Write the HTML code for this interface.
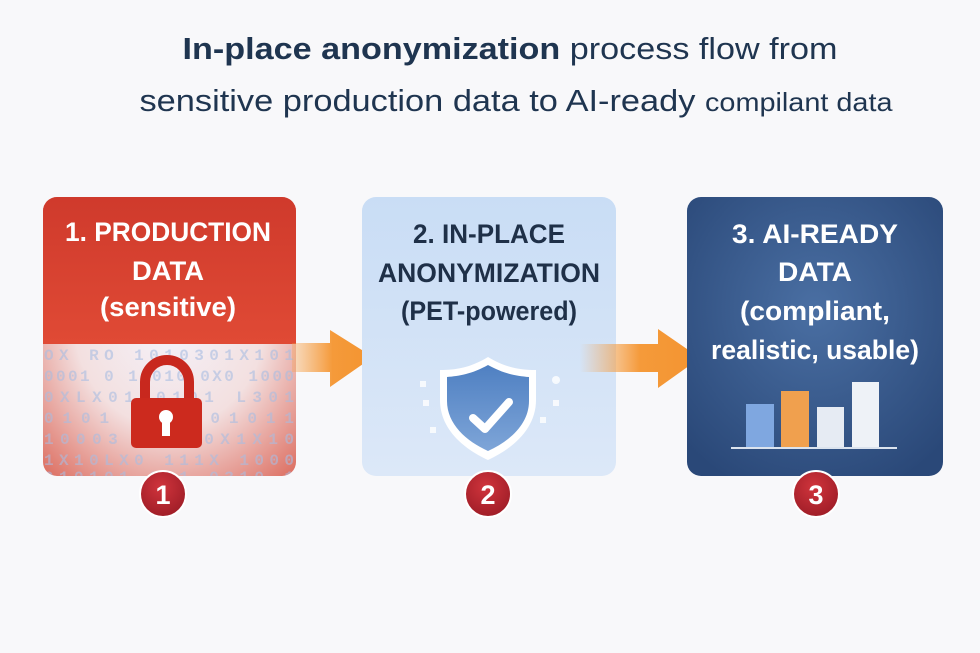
<!DOCTYPE html>
<html><head><meta charset="utf-8"><style>
html,body{margin:0;padding:0;background:#f8f8fa;}
svg{display:block;}
text{font-family:"Liberation Sans",sans-serif;}
text.mono{font-family:"Liberation Mono",monospace;}
</style></head><body>
<svg width="980" height="653" viewBox="0 0 980 653" xmlns="http://www.w3.org/2000/svg">
<defs>
<linearGradient id="red" x1="0" y1="0" x2="0" y2="1">
<stop offset="0" stop-color="#cf3a2c"/><stop offset="1" stop-color="#e04a35"/>
</linearGradient>
<radialGradient id="redlow" cx="0.5" cy="0.45" r="0.75">
<stop offset="0" stop-color="#f4f2fa"/><stop offset="0.5" stop-color="#f3e0e0"/><stop offset="1" stop-color="#dc6a5c"/>
</radialGradient>
<linearGradient id="blue2" x1="0" y1="0" x2="0" y2="1">
<stop offset="0" stop-color="#c9ddf5"/><stop offset="1" stop-color="#dce8f8"/>
</linearGradient>
<radialGradient id="navy" cx="0.5" cy="0.4" r="0.7">
<stop offset="0" stop-color="#4a6fa3"/><stop offset="1" stop-color="#2a4878"/>
</radialGradient>
<linearGradient id="arr1" x1="0" y1="0" x2="1" y2="0">
<stop offset="0" stop-color="#f6a048" stop-opacity="0.3"/><stop offset="0.5" stop-color="#f59a3a"/><stop offset="1" stop-color="#f39430"/>
</linearGradient>
<linearGradient id="arr2" x1="0" y1="0" x2="1" y2="0">
<stop offset="0" stop-color="#f6a048" stop-opacity="0"/><stop offset="0.5" stop-color="#f59a3a"/><stop offset="1" stop-color="#f39430"/>
</linearGradient>
<radialGradient id="badge" cx="0.45" cy="0.35" r="0.7">
<stop offset="0" stop-color="#d0343c"/><stop offset="1" stop-color="#9c1c26"/>
</radialGradient>
<linearGradient id="shield" x1="0" y1="0" x2="0" y2="1">
<stop offset="0" stop-color="#4f80c2"/><stop offset="1" stop-color="#7ea5d8"/>
</linearGradient>
<clipPath id="c1"><rect x="43" y="197" width="253" height="279" rx="14"/></clipPath>
</defs>

<!-- Title -->
<text x="510" y="59" text-anchor="middle" font-size="31" fill="#1f3550" textLength="655" lengthAdjust="spacingAndGlyphs"><tspan font-weight="bold">In-place anonymization</tspan> process flow from</text>
<text x="516" y="111" text-anchor="middle" font-size="31" fill="#1f3550" textLength="753" lengthAdjust="spacingAndGlyphs">sensitive production data to AI-ready <tspan font-size="26">compilant data</tspan></text>

<!-- Box 1 -->
<g clip-path="url(#c1)">
<rect x="43" y="197" width="253" height="279" fill="url(#redlow)"/>
<rect x="43" y="197" width="253" height="147" fill="url(#red)"/>
<g font-size="16" fill="#a9bde2" opacity="0.6" font-weight="bold">
<text class="mono" x="44" y="360" textLength="250">OX RO 1010301X101</text>
<text class="mono" x="44" y="381" textLength="250">0001 0 10010 0X0 1000</text>
<text class="mono" x="44" y="402" textLength="250">0XLX0110101 L301</text>
<text class="mono" x="44" y="423" textLength="250">0101 L 0001011</text>
<text class="mono" x="44" y="444" textLength="250">10003 1 0X0X1X10</text>
<text class="mono" x="44" y="465" textLength="250">1X10LX0 111X 1000</text>
<text class="mono" x="44" y="482" textLength="250">010101 011 0310 1</text>
</g>
</g>
<!-- lock -->
<path d="M145 400 v-18 a22 22 0 0 1 44 0 v18" fill="none" stroke="#c8281e" stroke-width="10"/>
<rect x="131" y="398" width="71" height="50" rx="5" fill="#cc2a1e"/>
<circle cx="166" cy="417" r="7" fill="#fff"/>
<rect x="162" y="419" width="8" height="17" fill="#fff"/>
<g fill="#fff" font-weight="bold" text-anchor="middle" font-size="27">
<text x="168" y="241" textLength="206" lengthAdjust="spacingAndGlyphs">1. PRODUCTION</text>
<text x="168" y="280" textLength="72" lengthAdjust="spacingAndGlyphs">DATA</text>
<text x="168" y="316" textLength="136" lengthAdjust="spacingAndGlyphs">(sensitive)</text>
</g>

<!-- Arrow 1 -->
<path d="M292 343 H330 V330 L373 357 L330 387 V372 H292 Z" fill="url(#arr1)"/>

<!-- Box 2 -->
<rect x="362" y="197" width="254" height="279" rx="14" fill="url(#blue2)"/>
<g fill="#1f3048" font-weight="bold" text-anchor="middle" font-size="27">
<text x="489" y="243" textLength="152" lengthAdjust="spacingAndGlyphs">2. IN-PLACE</text>
<text x="489" y="282" textLength="222" lengthAdjust="spacingAndGlyphs">ANONYMIZATION</text>
<text x="489" y="320" textLength="176" lengthAdjust="spacingAndGlyphs">(PET-powered)</text>
</g>
<g fill="#fff" opacity="0.8">
<rect x="420" y="381" width="6" height="6"/><rect x="423" y="400" width="6" height="6"/><rect x="430" y="427" width="6" height="6"/>
<circle cx="556" cy="380" r="4"/><rect x="553" y="400" width="6" height="6"/><rect x="540" y="417" width="6" height="6"/>
</g>
<path d="M488 357 C470 368 455 370 440 370 L440 400 C440 428 462 448 488 460 C514 448 536 428 536 400 L536 370 C521 370 506 368 488 357 Z" fill="#fff"/>
<path d="M488 365 C472 374 459 376 447 377 L447 401 C447 424 466 441 488 451 C510 441 529 424 529 401 L529 377 C517 376 504 374 488 365 Z" fill="url(#shield)"/>
<path d="M473 418 L485 429 L509 402" fill="none" stroke="#fff" stroke-width="8" stroke-linecap="round" stroke-linejoin="round"/>

<!-- Arrow 2 -->
<path d="M580 344 H658 V329 L700 358 L658 388 V372 H580 Z" fill="url(#arr2)"/>

<!-- Box 3 -->
<rect x="687" y="197" width="256" height="279" rx="14" fill="url(#navy)"/>
<g fill="#fff" font-weight="bold" text-anchor="middle" font-size="27">
<text x="815" y="243" textLength="166" lengthAdjust="spacingAndGlyphs">3. AI-READY</text>
<text x="815" y="281" textLength="74" lengthAdjust="spacingAndGlyphs">DATA</text>
<text x="815" y="320" textLength="150" lengthAdjust="spacingAndGlyphs">(compliant,</text>
<text x="815" y="359" textLength="208" lengthAdjust="spacingAndGlyphs">realistic, usable)</text>
</g>
<rect x="746" y="404" width="28" height="44" fill="#7fa7e0"/>
<rect x="781" y="391" width="28" height="57" fill="#f0a04e"/>
<rect x="817" y="407" width="27" height="41" fill="#e6ebf3"/>
<rect x="852" y="382" width="27" height="66" fill="#eef2f7"/>
<rect x="731" y="447" width="166" height="2" fill="#dbe3ee"/>

<!-- Badges -->
<g font-weight="bold" text-anchor="middle" font-size="27" fill="#fff">
<circle cx="163" cy="494" r="23" fill="url(#badge)" stroke="#fff" stroke-width="2"/><text x="163" y="504">1</text>
<circle cx="488" cy="494" r="23" fill="url(#badge)" stroke="#fff" stroke-width="2"/><text x="488" y="504">2</text>
<circle cx="816" cy="494" r="23" fill="url(#badge)" stroke="#fff" stroke-width="2"/><text x="816" y="504">3</text>
</g>
</svg>
</body></html>
